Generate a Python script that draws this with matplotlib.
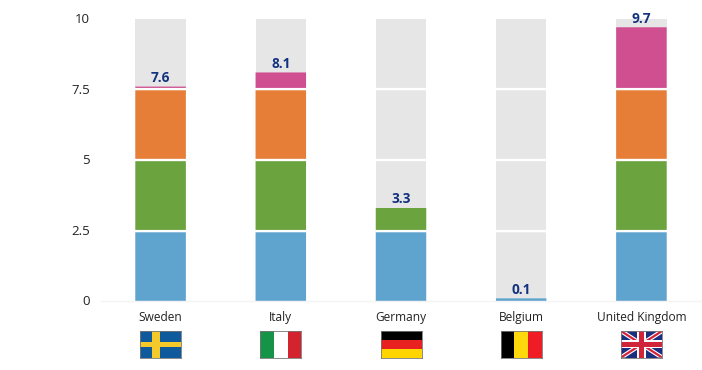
import matplotlib
matplotlib.use("Agg")
import matplotlib.pyplot as plt
from matplotlib.patches import Rectangle, Polygon
from matplotlib.transforms import ScaledTranslation

countries = ["Sweden", "Italy", "Germany", "Belgium", "United Kingdom"]
totals = [7.6, 8.1, 3.3, 0.1, 9.7]
band_edges = [0, 2.5, 5, 7.5, 10]
band_colors = ["#5fa4cf", "#6ba33f", "#e67e38", "#cf4f90"]
track_color = "#e6e6e6"
y_ticks = [0, 2.5, 5, 7.5, 10]
y_labels = ["0", "2.5", "5", "7.5", "10"]

W, H = 702, 370
plt.rcParams["font.family"] = ["Open Sans", "DejaVu Sans"]
fig = plt.figure(figsize=(W / 100, H / 100), dpi=100, facecolor="white")

def px_axes(x0, y0, x1, y1, **kw):
    return fig.add_axes([x0 / W, 1 - y1 / H, (x1 - x0) / W, (y1 - y0) / H], **kw)

ax = px_axes(100.5, 18.8, 701.5, 301.2)
ax.set_xlim(-0.5, 4.5)
ax.set_ylim(0, 10)
ax.patch.set_alpha(0)
for s in ["top", "right", "left"]:
    ax.spines[s].set_visible(False)
ax.spines["bottom"].set_color("#f4f4f4")
ax.spines["bottom"].set_linewidth(1)
ax.set_yticks(y_ticks, y_labels)
ax.tick_params(axis="y", length=0, pad=7.5, labelsize=9.5, labelcolor="#222222")
ax.set_xticks(range(len(countries)), countries)
ax.tick_params(axis="x", length=0, pad=7.2, labelsize=8.6, labelcolor="#222222")
shift = ScaledTranslation(0, 0.9 / 100, fig.dpi_scale_trans)
for lab in ax.get_yticklabels():
    lab.set_transform(lab.get_transform() + shift)

bw = 0.42
gap_nudge_px = {2.5: -0.5, 5: 0.0, 7.5: 0.3}
for i, total in enumerate(totals):
    ax.bar(i, 10, width=bw, color=track_color, linewidth=0, zorder=1)
    for j, color in enumerate(band_colors):
        lo, hi = band_edges[j], band_edges[j + 1]
        if total > lo:
            seg = ax.bar(i, min(total, hi) - lo, bottom=lo, width=bw, color=color, linewidth=0, zorder=2)
            for patch in seg:
                patch.set_snap(False)
    for edge in band_edges[1:-1]:
        nudge = ScaledTranslation(0, gap_nudge_px[edge] / 100, fig.dpi_scale_trans)
        gap = ax.hlines(edge, i - bw / 2 - 0.005, i + bw / 2 + 0.005, color="white", lw=1.7, zorder=3,
                        transform=ax.transData + nudge)
        gap.set_snap(False)
    ax.annotate(f"{total:.1f}", (i, total), xytext=(0, 1.2), textcoords="offset points",
                ha="center", va="bottom", fontsize=9.8, fontweight="bold",
                color="#12327f", zorder=4)

def flag_axes(i):
    cx = 160.5 + 120.25 * i
    a = px_axes(cx - 20.5, 331, cx + 20.5, 357.5)
    a.set_xlim(0, 1)
    a.set_ylim(0, 1)
    a.set_xticks([])
    a.set_yticks([])
    for s in a.spines.values():
        s.set_color("#777777")
        s.set_linewidth(0.6)
    return a

def vstripes(a, cols):
    n = len(cols)
    for k, c in enumerate(cols):
        a.add_patch(Rectangle((k / n, 0), 1 / n, 1, color=c, lw=0))

def hstripes(a, cols):
    n = len(cols)
    for k, c in enumerate(cols):
        a.add_patch(Rectangle((0, 1 - (k + 1) / n), 1, 1 / n, color=c, lw=0))

# Sweden
a = flag_axes(0)
a.set_facecolor("#0f5a9c")
a.add_patch(Rectangle((0.30, 0), 0.18, 1, color="#f6c92b", lw=0))
a.add_patch(Rectangle((0, 0.40), 1, 0.20, color="#f6c92b", lw=0))
# Italy
vstripes(flag_axes(1), ["#159447", "#ffffff", "#d3232e"])
# Germany
hstripes(flag_axes(2), ["#000000", "#e8201f", "#ffd500"])
# Belgium
vstripes(flag_axes(3), ["#000000", "#ffd90c", "#ef1c25"])
# United Kingdom
a = flag_axes(4)
a.set_facecolor("#1b2f80")
for p in ([(0, 1), (0.1, 1), (1, 0.1), (1, 0), (0.9, 0), (0, 0.9)],
          [(1, 1), (0.9, 1), (0, 0.1), (0, 0), (0.1, 0), (1, 0.9)]):
    a.add_patch(Polygon(p, color="white", lw=0))
for p in ([(0, 1), (0.05, 1), (1, 0.05), (1, 0), (0.95, 0), (0, 0.95)],
          [(1, 1), (0.95, 1), (0, 0.05), (0, 0), (0.05, 0), (1, 0.95)]):
    a.add_patch(Polygon(p, color="#d0243a", lw=0))
a.add_patch(Rectangle((0.40, 0), 0.20, 1, color="white", lw=0))
a.add_patch(Rectangle((0, 0.34), 1, 0.32, color="white", lw=0))
a.add_patch(Rectangle((0.44, 0), 0.12, 1, color="#d0243a", lw=0))
a.add_patch(Rectangle((0, 0.40), 1, 0.20, color="#d0243a", lw=0))

fig.savefig("out.png", dpi=100)
